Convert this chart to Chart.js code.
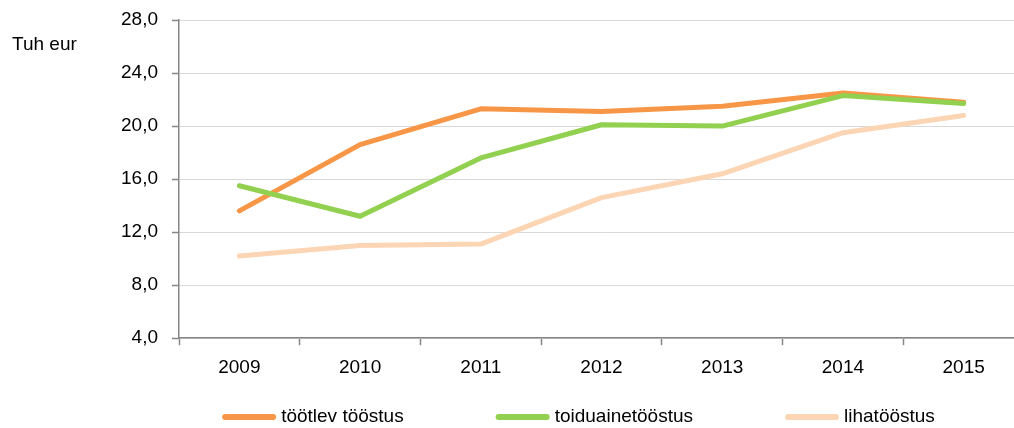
<!DOCTYPE html>
<html>
<head>
<meta charset="utf-8">
<script src="https://cdn.jsdelivr.net/npm/chart.js@4.4.1/dist/chart.umd.min.js"></script>
<style>
  html, body { margin: 0; padding: 0; background: #fff; overflow: hidden; }
  #wrap { position: relative; width: 1030px; height: 428px; }
</style>
</head>
<body>
<div id="wrap"><canvas id="chart"></canvas></div>
<script>
"use strict";

// ── data ──
const years = ["2009", "2010", "2011", "2012", "2013", "2014", "2015"];
const tootlevToostus = [13.6, 18.6, 21.3, 21.1, 21.5, 22.5, 21.8];
const toiduaineToostus = [15.5, 13.2, 17.6, 20.1, 20.0, 22.3, 21.7];
const lihaToostus = [10.2, 11.0, 11.1, 14.6, 16.4, 19.5, 20.8];
const seriesNames = ["töötlev tööstus", "toiduainetööstus", "lihatööstus"];
const yMin = 4, yMax = 28, yStep = 4;
const unitLabel = "Tuh eur";

const C = {
  orange: "#f79646",
  green: "#92d050",
  peach: "#fcd5b5",
  axis: "#868686",
  grid: "#d9d9d9",
  text: "#000"
};
const FONT_FAMILY = "'Liberation Sans', Arial, sans-serif";
const FONT_SIZE = 19;

// draws the unit label and the line-style legend
const extras = {
  id: "extras",
  afterDraw(chart) {
    const ctx = chart.ctx;
    ctx.save();
    ctx.font = FONT_SIZE + "px " + FONT_FAMILY;
    ctx.fillStyle = C.text;
    ctx.textBaseline = "middle";
    ctx.textAlign = "left";
    ctx.fillText(unitLabel, 12, 45);

    const sw = 54, textGap = 5, gap = 92, cx = 578.5, y = 417;
    const items = chart.data.datasets.map(ds => ({
      ds, w: sw + textGap + ctx.measureText(ds.label).width
    }));
    const total = items.reduce((s, it) => s + it.w, 0) + gap * (items.length - 1);
    let x = cx - total / 2;
    items.forEach(it => {
      ctx.strokeStyle = it.ds.borderColor;
      ctx.lineWidth = 6;
      ctx.lineCap = "round";
      ctx.beginPath();
      ctx.moveTo(x + 3, y);
      ctx.lineTo(x + sw - 3, y);
      ctx.stroke();
      ctx.fillText(it.ds.label, x + sw + textGap, y);
      x += it.w + gap;
    });
    ctx.restore();
  }
};

function lineSet(label, data, color, order) {
  return {
    label, data, order,
    borderColor: color,
    backgroundColor: color,
    borderWidth: 5,
    borderCapStyle: "round",
    borderJoinStyle: "round",
    pointRadius: 0,
    tension: 0,
    fill: false
  };
}

function boot() {
  Chart.defaults.font.family = FONT_FAMILY;
  Chart.defaults.font.size = FONT_SIZE;
  Chart.defaults.color = C.text;

  new Chart(document.getElementById("chart"), {
    type: "line",
    data: {
      labels: years,
      datasets: [
        lineSet(seriesNames[0], tootlevToostus, C.orange, 1),
        lineSet(seriesNames[1], toiduaineToostus, C.green, 0),
        lineSet(seriesNames[2], lihaToostus, C.peach, 2)
      ]
    },
    options: {
      responsive: true,
      maintainAspectRatio: false,
      animation: false,
      layout: { padding: { left: 0, right: 6, top: 20, bottom: 38 } },
      plugins: { legend: { display: false }, tooltip: { enabled: false } },
      scales: {
        x: {
          offset: true,
          grid: { offset: true, drawOnChartArea: false, drawTicks: true, tickLength: 7, tickColor: C.axis, tickWidth: 1.5 },
          border: { color: C.axis, width: 1.5 },
          ticks: { padding: 11, maxRotation: 0 }
        },
        y: {
          min: yMin,
          max: yMax,
          afterFit: s => { s.width = 179; s.paddingTop = 0; s.paddingBottom = 0; },
          grid: { color: C.grid, lineWidth: 1, tickLength: 7, tickColor: C.axis, tickWidth: 1.5 },
          border: { color: C.axis, width: 1.5 },
          ticks: {
            stepSize: yStep,
            padding: 14,
            callback: v => v.toFixed(1).replace(".", ",")
          }
        }
      }
    },
    plugins: [extras]
  });
}

document.readyState === "loading"
  ? document.addEventListener("DOMContentLoaded", boot)
  : boot();
</script>
</body>
</html>
